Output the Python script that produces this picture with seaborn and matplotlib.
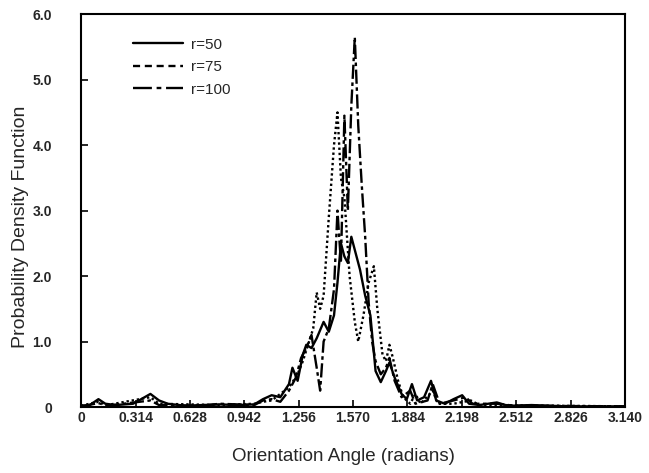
import matplotlib
matplotlib.use("Agg")
import matplotlib.pyplot as plt
from matplotlib.lines import Line2D
import numpy as np
import pandas as pd
import seaborn as sns

# Orientation angle (radians) and PDF values
x_r50 = [0.00, 0.05, 0.10, 0.14, 0.20, 0.30, 0.40, 0.45, 0.50, 0.60, 0.80, 0.90,
         1.00, 1.05, 1.10, 1.15, 1.20, 1.22, 1.25, 1.28, 1.30, 1.33, 1.36, 1.40,
         1.43, 1.46, 1.48, 1.50, 1.52, 1.54, 1.56, 1.58, 1.61, 1.64, 1.67, 1.70,
         1.73, 1.76, 1.78, 1.81, 1.85, 1.88, 1.91, 1.94, 1.98, 2.02, 2.05, 2.10,
         2.15, 2.20, 2.24, 2.30, 2.40, 2.45, 2.50, 2.60, 2.80, 3.14]
y_r50 = [0.02, 0.03, 0.12, 0.05, 0.03, 0.05, 0.20, 0.10, 0.05, 0.02, 0.04, 0.03,
         0.04, 0.12, 0.18, 0.15, 0.35, 0.60, 0.40, 0.80, 0.95, 0.90, 1.05, 1.30,
         1.15, 1.40, 1.90, 2.50, 2.30, 2.20, 2.60, 2.40, 2.10, 1.70, 1.40, 0.55,
         0.38, 0.55, 0.68, 0.45, 0.20, 0.12, 0.35, 0.10, 0.15, 0.40, 0.10, 0.05,
         0.12, 0.18, 0.05, 0.03, 0.07, 0.03, 0.02, 0.03, 0.01, 0.01]

x_r75 = [0.00, 0.10, 0.15, 0.40, 0.45, 0.80, 1.00, 1.05, 1.10, 1.20, 1.25, 1.28,
         1.31, 1.34, 1.36, 1.38, 1.40, 1.43, 1.46, 1.48, 1.50, 1.52, 1.55, 1.58,
         1.60, 1.63, 1.66, 1.69, 1.71, 1.74, 1.76, 1.78, 1.80, 1.83, 1.86, 1.90,
         1.93, 1.96, 2.03, 2.06, 2.15, 2.25, 2.30, 3.14]
y_r75 = [0.02, 0.08, 0.03, 0.15, 0.05, 0.03, 0.05, 0.08, 0.10, 0.30, 0.50, 0.70,
         0.95, 1.20, 1.75, 1.50, 1.70, 2.90, 4.00, 4.50, 3.50, 3.20, 2.00, 1.30,
         1.00, 1.40, 1.90, 2.15, 1.50, 0.80, 0.70, 0.95, 0.75, 0.40, 0.15, 0.05,
         0.20, 0.05, 0.25, 0.05, 0.05, 0.10, 0.03, 0.01]

x_r100 = [0.00, 0.10, 0.15, 0.40, 0.45, 0.70, 0.80, 1.00, 1.05, 1.10, 1.15, 1.20,
          1.24, 1.27, 1.30, 1.33, 1.36, 1.38, 1.40, 1.43, 1.46, 1.48, 1.50, 1.52,
          1.54, 1.56, 1.58, 1.60, 1.62, 1.64, 1.66, 1.68, 1.70, 1.73, 1.76, 1.78,
          1.81, 1.85, 1.90, 1.93, 2.00, 2.03, 2.07, 2.15, 2.22, 2.26, 2.40, 2.50, 3.14]
y_r100 = [0.01, 0.06, 0.02, 0.10, 0.03, 0.02, 0.05, 0.03, 0.10, 0.12, 0.08, 0.25,
          0.45, 0.75, 0.90, 1.10, 0.60, 0.25, 1.00, 1.20, 1.80, 3.00, 2.20, 4.45,
          3.00, 4.60, 5.65, 4.30, 3.40, 2.60, 1.60, 1.00, 0.70, 0.50, 0.60, 0.75,
          0.40, 0.15, 0.25, 0.05, 0.10, 0.35, 0.05, 0.10, 0.15, 0.05, 0.05, 0.02, 0.01]

x_ticks = [0, 0.314, 0.628, 0.942, 1.256, 1.570, 1.884, 2.198, 2.512, 2.826, 3.140]
x_tick_labels = ["0", "0.314", "0.628", "0.942", "1.256", "1.570", "1.884",
                 "2.198", "2.512", "2.826", "3.140"]
y_ticks = [0, 1, 2, 3, 4, 5, 6]
y_tick_labels = ["0", "1.0", "2.0", "3.0", "4.0", "5.0", "6.0"]

sns.set_theme(style="ticks")
plt.rcParams["font.family"] = ["Liberation Sans", "DejaVu Sans"]

fig = plt.figure(figsize=(6.49, 4.73), dpi=100)
ax = fig.add_axes([0.125, 0.1395, 0.838, 0.8305])

lw = 1.7
sns.lineplot(x=x_r50, y=y_r50, ax=ax, color="black", linewidth=lw, linestyle="-")
sns.lineplot(x=x_r75, y=y_r75, ax=ax, color="black", linewidth=lw, linestyle=(0, (1, 1.2)))
sns.lineplot(x=x_r100, y=y_r100, ax=ax, color="black", linewidth=lw,
             linestyle=(0, (6, 1.5, 1.5, 1.5)))

ax.set_xlim(0, 3.14)
ax.set_ylim(0, 6.0)
ax.set_xticks(x_ticks)
ax.set_xticklabels(x_tick_labels, fontsize=10, fontweight="bold")
ax.set_yticks(y_ticks)
ax.set_yticklabels(y_tick_labels, fontsize=10, fontweight="bold")
ax.tick_params(axis="both", direction="in", length=5, width=1.2, color="black")
ax.tick_params(axis="y", pad=21)
ax.tick_params(axis="x", pad=3)
for s in ax.spines.values():
    s.set_linewidth(1.5)
    s.set_color("black")

ax.set_xlabel("Orientation Angle (radians)", fontsize=13.5)
ax.set_ylabel("Probability Density Function", fontsize=14)
ax.xaxis.set_label_coords(0.483, -0.105)
ax.yaxis.set_label_coords(-0.095, 0.46)

handles = [
    Line2D([], [], color="black", linewidth=lw, linestyle="-"),
    Line2D([], [], color="black", linewidth=lw, linestyle=(0, (3, 2))),
    Line2D([], [], color="black", linewidth=lw, linestyle=(0, (8, 2, 2, 2))),
]
ax.legend(handles, ["r=50", "r=75", "r=100"], loc="upper left",
          bbox_to_anchor=(0.07, 0.975), frameon=False, fontsize=11,
          handlelength=3.3, handletextpad=0.5, labelspacing=0.55)

fig.savefig("out.png", dpi=100)
